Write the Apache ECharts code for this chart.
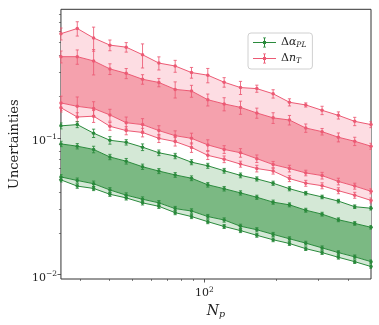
<!DOCTYPE html>
<html><head><meta charset="utf-8">
<script src="https://cdn.jsdelivr.net/npm/echarts@6/dist/echarts.min.js"></script>
<style>html,body{margin:0;padding:0;background:#fff}#c{width:379px;height:325px}</style>
</head><body><div id="c"></div>
<script>
// ---- data ----
const Np = [25, 29.27, 34.27, 40.12, 46.97, 54.99, 64.39, 75.38, 88.26, 103.3, 121.0, 141.7, 165.9, 194.2, 227.4, 266.2, 311.7, 364.9, 427.2, 500];

const nTUpperOuter = [0.577, 0.630, 0.537, 0.476, 0.460, 0.405, 0.352, 0.335, 0.300, 0.287, 0.255, 0.233, 0.229, 0.210, 0.182, 0.174, 0.159, 0.146, 0.132, 0.125];
const nTUpperInner = [0.392, 0.392, 0.365, 0.319, 0.296, 0.268, 0.254, 0.226, 0.220, 0.190, 0.177, 0.167, 0.152, 0.140, 0.135, 0.118, 0.111, 0.101, 0.0944, 0.0869];
const nTLowerInner = [0.180, 0.170, 0.164, 0.147, 0.129, 0.125, 0.113, 0.1037, 0.0992, 0.0888, 0.0823, 0.0778, 0.0705, 0.0638, 0.0597, 0.0554, 0.0530, 0.0480, 0.0444, 0.0407];
const nTLowerOuter = [0.166, 0.142, 0.144, 0.1215, 0.113, 0.1095, 0.0992, 0.0939, 0.0851, 0.0745, 0.0698, 0.0643, 0.0597, 0.0572, 0.0504, 0.0466, 0.0447, 0.0411, 0.0381, 0.0349];

const alphaUpperOuter = [0.1224, 0.125, 0.1082, 0.0960, 0.0928, 0.0855, 0.0778, 0.0737, 0.0664, 0.0625, 0.0575, 0.0532, 0.0501, 0.0466, 0.0425, 0.0394, 0.0370, 0.0345, 0.0314, 0.0306];
const alphaUpperInner = [0.0903, 0.0869, 0.0823, 0.0725, 0.0675, 0.0615, 0.0572, 0.0536, 0.0507, 0.0454, 0.0425, 0.0396, 0.0368, 0.0339, 0.0324, 0.0296, 0.0277, 0.0252, 0.0237, 0.0222];
const alphaLowerInner = [0.0518, 0.0488, 0.0462, 0.0416, 0.0381, 0.0356, 0.0335, 0.0304, 0.0292, 0.0266, 0.0251, 0.0226, 0.0213, 0.0197, 0.0183, 0.0170, 0.0157, 0.0145, 0.0135, 0.01245];
const alphaLowerOuter = [0.0493, 0.0444, 0.0427, 0.0387, 0.0364, 0.0335, 0.0316, 0.0284, 0.0266, 0.0244, 0.0225, 0.0210, 0.0194, 0.0180, 0.0169, 0.0155, 0.0145, 0.0134, 0.01245, 0.01147];

// relative error bar half-lengths
const nTUpperOuterErr = [0.10, 0.12, 0.20, 0.09, 0.08, 0.20, 0.11, 0.10, 0.09, 0.12, 0.08, 0.11, 0.06, 0.07, 0.06, 0.035, 0.07, 0.06, 0.07, 0.05];
const nTUpperInnerErr = [0.10, 0.12, 0.21, 0.09, 0.085, 0.08, 0.07, 0.135, 0.10, 0.10, 0.11, 0.11, 0.085, 0.09, 0.08, 0.07, 0.055, 0.075, 0.07, 0.05];
const nTLowerInnerErr = [0.12, 0.17, 0.12, 0.10, 0.10, 0.105, 0.085, 0.085, 0.09, 0.09, 0.065, 0.072, 0.063, 0.054, 0.056, 0.047, 0.056, 0.056, 0.05, 0.042];
const nTLowerOuterErr = [0.07, 0.075, 0.10, 0.065, 0.068, 0.072, 0.068, 0.072, 0.08, 0.068, 0.056, 0.05, 0.056, 0.05, 0.05, 0.05, 0.05, 0.05, 0.05, 0.042];
const alphaUpperOuterErr = [0.05, 0.05, 0.07, 0.063, 0.045, 0.056, 0.047, 0.045, 0.042, 0.042, 0.04, 0.04, 0.035, 0.035, 0.035, 0.03, 0.03, 0.03, 0.03, 0.03];
const alphaUpperInnerErr = [0.045, 0.045, 0.055, 0.045, 0.047, 0.045, 0.042, 0.04, 0.04, 0.038, 0.038, 0.036, 0.035, 0.035, 0.033, 0.033, 0.032, 0.032, 0.03, 0.03];
const alphaLowerInnerErr = [0.04, 0.042, 0.046, 0.04, 0.04, 0.04, 0.04, 0.038, 0.038, 0.036, 0.036, 0.035, 0.035, 0.034, 0.034, 0.033, 0.033, 0.032, 0.032, 0.03];
const alphaLowerOuterErr = [0.035, 0.036, 0.036, 0.035, 0.035, 0.035, 0.035, 0.034, 0.034, 0.033, 0.033, 0.033, 0.032, 0.032, 0.032, 0.031, 0.031, 0.03, 0.03, 0.03];

const xMajorTicks = [100];
const xMinorTicks = [30, 40, 50, 60, 70, 80, 90, 200, 300, 400];
const yMajorTicks = [0.01, 0.1];
const yMinorTicks = [0.02, 0.03, 0.04, 0.05, 0.06, 0.07, 0.08, 0.09, 0.2, 0.3, 0.4, 0.5, 0.6, 0.7, 0.8];

// ---- styling ----
const GREEN = '#2a8a3c';
const RED = '#ec5a74';
const GREEN_LIGHT = '#d4e8d6';
const GREEN_DARK = '#7bb983';
const RED_LIGHT = '#fddde3';
const RED_DARK = '#f5a1ad';
const SERIF = "'DejaVu Serif', serif";

function band(upper, lower, color) {
  return {
    type: 'custom', coordinateSystem: 'cartesian2d', silent: true, clip: true, z: 1,
    data: [[Np[0], upper[0]]],
    renderItem: function (params, api) {
      const pts = [];
      for (let i = 0; i < Np.length; i++) pts.push(api.coord([Np[i], upper[i]]));
      for (let i = Np.length - 1; i >= 0; i--) pts.push(api.coord([Np[i], lower[i]]));
      return { type: 'polygon', shape: { points: pts }, style: { fill: color } };
    }
  };
}
function line(name, vals, color) {
  return {
    type: 'line', name: name, z: 3,
    data: Np.map((x, i) => [x, vals[i]]),
    symbol: 'circle', symbolSize: 3.5, showSymbol: true,
    lineStyle: { width: 1, color: color }, itemStyle: { color: color },
    emphasis: { disabled: true }, animation: false
  };
}
function errs(vals, rel, color) {
  return {
    type: 'custom', coordinateSystem: 'cartesian2d', silent: true, clip: true, z: 4,
    data: Np.map((x, i) => [x, vals[i], vals[i] * (1 - rel[i]), vals[i] * (1 + rel[i])]),
    encode: { x: 0, y: 1 },
    renderItem: function (params, api) {
      const x = api.value(0);
      const p1 = api.coord([x, api.value(2)]);
      const p2 = api.coord([x, api.value(3)]);
      const st = { stroke: color, lineWidth: 1, opacity: 0.85 };
      return { type: 'group', children: [
        { type: 'line', shape: { x1: p1[0], y1: p1[1], x2: p2[0], y2: p2[1] }, style: st },
        { type: 'line', shape: { x1: p1[0] - 1.6, y1: p1[1], x2: p1[0] + 1.6, y2: p1[1] }, style: st },
        { type: 'line', shape: { x1: p2[0] - 1.6, y1: p2[1], x2: p2[0] + 1.6, y2: p2[1] }, style: st }
      ] };
    }
  };
}

const tickRich = {
  b: { fontFamily: SERIF, fontSize: 11, color: '#222' },
  s: { fontFamily: SERIF, fontSize: 7.5, color: '#222', padding: [0, 0, 7, 0] }
};
function powLabel(v) {
  const e = Math.round(Math.log10(v));
  return '{b|10}{s|' + (e < 0 ? '−' + (-e) : e) + '}';
}

const axisCommon = {
  type: 'log', logBase: 10, splitLine: { show: false }, axisLine: { show: false }
};

const chart = echarts.init(document.getElementById('c'), null, { renderer: 'canvas' });
chart.setOption({
  animation: false,
  backgroundColor: '#fff',
  grid: { left: 50.7, right: 8, top: 9.3, bottom: 40.7, show: true, borderColor: '#333', borderWidth: 1, backgroundColor: 'transparent' },
  legend: {
    left: 248, top: 33, orient: 'vertical', itemWidth: 23, itemHeight: 10, itemGap: 4,
    padding: [4, 6, 4, 5], borderColor: '#d0d0d0', borderWidth: 1, borderRadius: 3, backgroundColor: '#fff',
    selectedMode: false,
    data: [
      { name: 'alpha', icon: 'path://M0,4.5H23V5.5H0Z M11,0H12V10H11Z M10,0H13V0.8H10Z M10,9.2H13V10H10Z M10,3.5H13V6.5H10Z' },
      { name: 'nT', icon: 'path://M0,4.5H23V5.5H0Z M11,0H12V10H11Z M10,0H13V0.8H10Z M10,9.2H13V10H10Z M10,3.5H13V6.5H10Z' }
    ],
    formatter: function (n) { return n === 'alpha' ? '{n|Δ}{i|α}{s|PL}' : '{n|Δ}{i|n}{s|T}'; },
    textStyle: {
      rich: {
        n: { fontFamily: SERIF, fontSize: 11, color: '#222' },
        i: { fontFamily: SERIF, fontStyle: 'italic', fontSize: 11, color: '#222' },
        s: { fontFamily: SERIF, fontStyle: 'italic', fontSize: 7.5, color: '#222', padding: [5, 0, 0, 0] }
      }
    }
  },
  xAxis: [
    Object.assign({}, axisCommon, {
      min: 25, max: 500,
      name: '{i|N}{s|p}', nameLocation: 'middle', nameGap: 24,
      nameTextStyle: { rich: {
        i: { fontFamily: SERIF, fontStyle: 'italic', fontSize: 14, color: '#222' },
        s: { fontFamily: SERIF, fontStyle: 'italic', fontSize: 9.5, color: '#222', padding: [7, 0, 0, 0] }
      } },
      axisTick: { show: true, length: 3.5, customValues: xMajorTicks, lineStyle: { color: '#333', width: 0.8 } },
      axisLabel: { show: true, customValues: xMajorTicks, margin: 7, formatter: powLabel, rich: tickRich }
    }),
    Object.assign({}, axisCommon, {
      min: 25, max: 500, position: 'bottom',
      axisTick: { show: true, length: 2, customValues: xMinorTicks, lineStyle: { color: '#333', width: 0.6 } },
      axisLabel: { show: false }
    })
  ],
  yAxis: [
    Object.assign({}, axisCommon, {
      min: 0.0093, max: 0.87,
      name: 'Uncertainties', nameLocation: 'middle', nameGap: 38, nameRotate: 90,
      nameTextStyle: { fontFamily: SERIF, fontSize: 13, color: '#222' },
      axisTick: { show: true, length: 3.5, customValues: yMajorTicks, lineStyle: { color: '#333', width: 0.8 } },
      axisLabel: { show: true, customValues: yMajorTicks, margin: 4, padding: [6, 0, 0, 0], formatter: powLabel, rich: tickRich }
    }),
    Object.assign({}, axisCommon, {
      min: 0.0093, max: 0.87, position: 'left',
      axisTick: { show: true, length: 2, customValues: yMinorTicks, lineStyle: { color: '#333', width: 0.6 } },
      axisLabel: { show: false }
    })
  ],
  series: [
    band(nTUpperOuter, nTUpperInner, RED_LIGHT),
    band(nTUpperInner, nTLowerInner, RED_DARK),
    band(nTLowerInner, nTLowerOuter, RED_LIGHT),
    band(alphaUpperOuter, alphaUpperInner, GREEN_LIGHT),
    band(alphaUpperInner, alphaLowerInner, GREEN_DARK),
    band(alphaLowerInner, alphaLowerOuter, GREEN_LIGHT),
    line('nT', nTUpperOuter, RED), line('nT', nTUpperInner, RED), line('nT', nTLowerInner, RED), line('nT', nTLowerOuter, RED),
    line('alpha', alphaUpperOuter, GREEN), line('alpha', alphaUpperInner, GREEN), line('alpha', alphaLowerInner, GREEN), line('alpha', alphaLowerOuter, GREEN),
    errs(nTUpperOuter, nTUpperOuterErr, RED), errs(nTUpperInner, nTUpperInnerErr, RED),
    errs(nTLowerInner, nTLowerInnerErr, RED), errs(nTLowerOuter, nTLowerOuterErr, RED),
    errs(alphaUpperOuter, alphaUpperOuterErr, GREEN), errs(alphaUpperInner, alphaUpperInnerErr, GREEN),
    errs(alphaLowerInner, alphaLowerInnerErr, GREEN), errs(alphaLowerOuter, alphaLowerOuterErr, GREEN)
  ]
});
</script></body></html>
